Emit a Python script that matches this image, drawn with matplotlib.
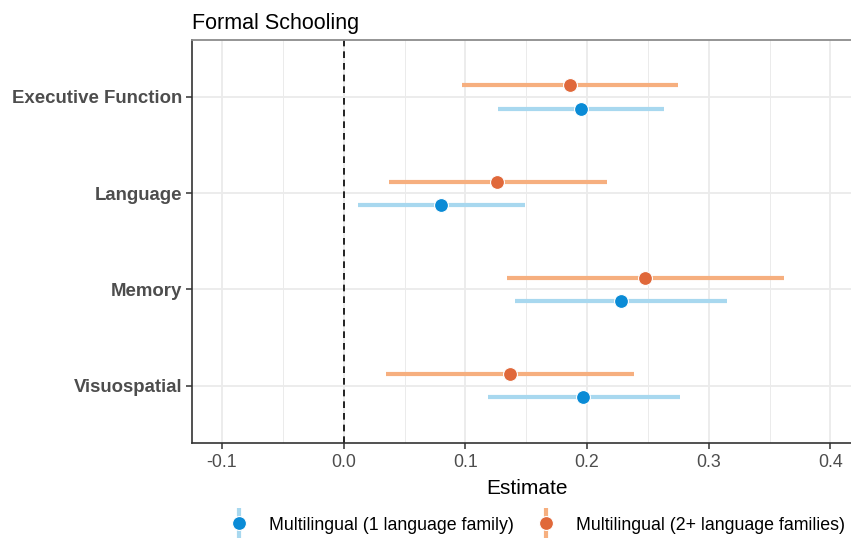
import matplotlib
matplotlib.use("Agg")
import matplotlib.pyplot as plt
from matplotlib.lines import Line2D
from matplotlib.legend_handler import HandlerTuple
import numpy as np

plt.rcParams['font.family'] = ['Liberation Sans', 'DejaVu Sans']

categories = ["Visuospatial", "Memory", "Language", "Executive Function"]
series_names = ["Multilingual (1 language family)", "Multilingual (2+ language families)"]

# series 1: 1 language family
est1 = [0.197, 0.228, 0.080, 0.195]
lo1 = [0.119, 0.141, 0.012, 0.127]
hi1 = [0.276, 0.315, 0.149, 0.263]
# series 2: 2+ language families
est2 = [0.137, 0.248, 0.126, 0.186]
lo2 = [0.035, 0.134, 0.037, 0.097]
hi2 = [0.239, 0.362, 0.216, 0.275]

xticks = [-0.1, 0.0, 0.1, 0.2, 0.3, 0.4]
xtick_labels = ["-0.1", "0.0", "0.1", "0.2", "0.3", "0.4"]

pt_colors = ["#0A8BD6", "#E0683A"]
ln_colors = ["#A8D8EF", "#F6AF7F"]
offsets = [-0.12, 0.12]

W, H = 851, 541
fig = plt.figure(figsize=(W / 100, H / 100), dpi=100)
left, right, bottom, top = 192, 862, 442.7, 40
ax = fig.add_axes([left / W, 1 - bottom / H, (right - left) / W, (bottom - top) / H])

ax.set_xlim(-0.1247, 0.426)
ax.set_ylim(0.408, 4.592)

# grid
ax.set_xticks(xticks)
ax.set_xticks(np.arange(-0.05, 0.45, 0.1), minor=True)
ax.set_xticklabels(xtick_labels)
ypos = np.arange(1, len(categories) + 1)
ax.set_yticks(ypos)
ax.set_yticklabels(categories)
ax.grid(which='major', color='#EBEBEB', lw=1.3)
ax.grid(which='minor', axis='x', color='#EBEBEB', lw=0.7)
ax.set_axisbelow(True)

ax.axvline(0, color='black', lw=1.2, ls=(0, (4, 3)), zorder=2)

for est, lo, hi, pc, lc, off in [(est1, lo1, hi1, pt_colors[0], ln_colors[0], offsets[0]),
                                 (est2, lo2, hi2, pt_colors[1], ln_colors[1], offsets[1])]:
    y = ypos + off
    ax.hlines(y, lo, hi, colors=lc, lw=3, zorder=3)
    ax.plot(est, y, 'o', color=pc, ms=10, mec='white', mew=0.8, zorder=4, ls='none')

for s in ['left', 'bottom']:
    ax.spines[s].set_color('#333333')
    ax.spines[s].set_linewidth(1.2)
ax.spines['top'].set_color('#8C8C8C')
ax.spines['top'].set_linewidth(1.3)
ax.spines['right'].set_visible(False)

ax.tick_params(axis='y', labelsize=13.4, colors='#333333', labelcolor='#4D4D4D', length=4, width=1.1, pad=3)
for lab in ax.get_yticklabels():
    lab.set_fontweight('bold')
ax.tick_params(axis='x', labelsize=12.8, colors='#333333', labelcolor='#4D4D4D', length=4, width=1.1, pad=4)
ax.tick_params(which='minor', length=0)

ax.set_xlabel("Estimate", fontsize=15, color='black', labelpad=6)
ax.set_title("Formal Schooling", fontsize=15.5, loc='left', pad=8)

handles = []
for pc, lc in zip(pt_colors, ln_colors):
    vline = Line2D([], [], marker='|', ms=21, mew=3, color=lc, ls='none')
    pt = Line2D([], [], marker='o', ms=10, color=pc, mec='white', mew=0.8, ls='none')
    handles.append((vline, pt))
fig.legend(handles, series_names, loc='center', bbox_to_anchor=(537 / W, 1 - 525 / H),
           ncol=2, frameon=False, fontsize=12.8, handler_map={tuple: HandlerTuple(ndivide=1)},
           handlelength=1.2, handletextpad=1.1, columnspacing=1.2)

fig.savefig("out.png", dpi=100)
